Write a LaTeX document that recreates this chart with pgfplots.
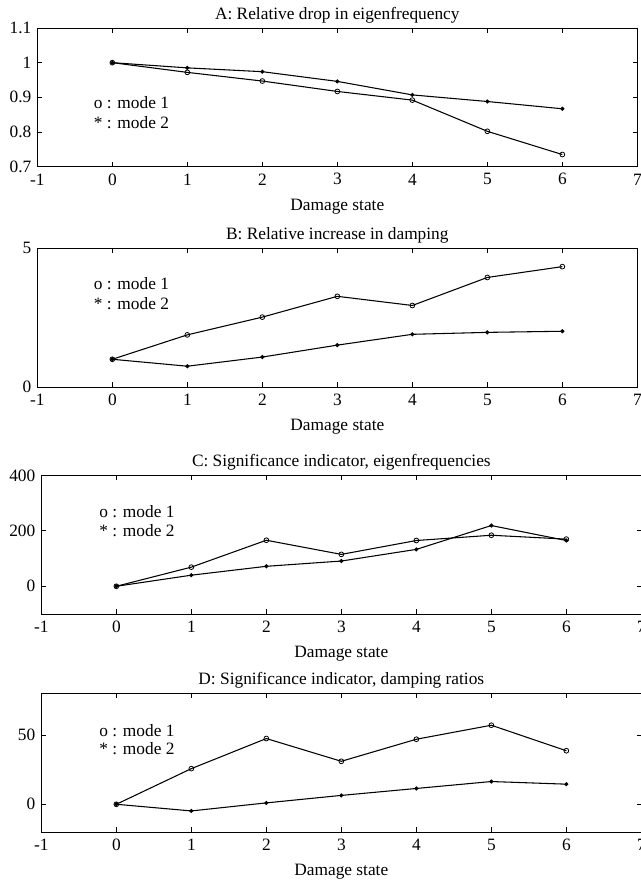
\documentclass[border=0pt]{standalone}
\usepackage{fontspec}
\setmainfont{Liberation Serif}
\usepackage{pgfplots}
\pgfplotsset{compat=1.18}

\tikzset{legtxt/.style={anchor=west, inner sep=0pt, font=\fontsize{13}{15}\selectfont}}

\pgfplotsset{
  panel/.style={
    scale only axis, width=450pt, height=104pt,
    anchor=south west,
    xmin=-1, xmax=7, xtick={-1,0,...,7},
    tick align=inside, tick pos=both,
    major tick length=3.5pt,
    axis line style={line width=0.7pt},
    every tick/.style={line width=0.6pt, black},
    tick label style={font=\fontsize{13}{15}\selectfont},
    /pgf/number format/assume math mode=true,
    xticklabel style={anchor=center, yshift=-9.5pt},
    yticklabel style={anchor=east, xshift=-1pt},
    title style={at={(axis description cs:0.5,1)}, anchor=center, yshift=3.5pt,
                 font=\fontsize{13}{15}\selectfont},
    xlabel={Damage state},
    xlabel style={at={(axis description cs:0.5,0)}, anchor=center, yshift=-30pt,
                  font=\fontsize{13}{15}\selectfont},
    every axis plot/.append style={black, line width=0.8pt},
  },
  m1/.style={mark=o, mark size=1.8pt, mark options={line width=0.6pt}},
  m2/.style={mark=*, mark size=1.1pt},
}

\begin{document}
\begin{tikzpicture}
\useasboundingbox (0,0) rectangle (480pt,-660.75pt);

% A
\begin{axis}[panel, at={(28pt,-125pt)},
  ymin=0.7, ymax=1.1, ytick={0.7,0.8,0.9,1,1.1},
  title={A: Relative drop in eigenfrequency}]
\addplot[m1] coordinates {(0,1.0) (1,0.972) (2,0.947) (3,0.917) (4,0.892) (5,0.802) (6,0.735)};
\addplot[m2] coordinates {(0,1.0) (1,0.985) (2,0.974) (3,0.946) (4,0.907) (5,0.888) (6,0.867)};
\node[legtxt] at (axis cs:-0.25,0.885) {o : mode 1};
\node[legtxt] at (axis cs:-0.25,0.828) {* : mode 2};
\end{axis}

% B
\begin{axis}[panel, at={(28pt,-290.25pt)},
  ymin=0, ymax=5, ytick={0,5},
  title={B: Relative increase in damping}]
\addplot[m1] coordinates {(0,1.0) (1,1.88) (2,2.52) (3,3.27) (4,2.94) (5,3.95) (6,4.34)};
\addplot[m2] coordinates {(0,1.0) (1,0.75) (2,1.08) (3,1.51) (4,1.90) (5,1.97) (6,2.01)};
\node[legtxt] at (axis cs:-0.25,3.73) {o : mode 1};
\node[legtxt] at (axis cs:-0.25,3.01) {* : mode 2};
\end{axis}

% C
\begin{axis}[panel, at={(31pt,-460.5pt)},
  ymin=-100, ymax=400, ytick={0,200,400},
  title={C: Significance indicator, eigenfrequencies}]
\addplot[m1] coordinates {(0,0) (1,69) (2,166) (3,115) (4,165) (5,184) (6,170)};
\addplot[m2] coordinates {(0,0) (1,40) (2,72) (3,91) (4,133) (5,219) (6,165)};
\node[legtxt] at (axis cs:-0.23,268) {o : mode 1};
\node[legtxt] at (axis cs:-0.23,200) {* : mode 2};
\end{axis}

% D
\begin{axis}[panel, at={(31pt,-624pt)},
  ymin=-20, ymax=80, ytick={0,50},
  title={D: Significance indicator, damping ratios}]
\addplot[m1] coordinates {(0,0) (1,25.7) (2,47.4) (3,31) (4,46.9) (5,57) (6,38.6)};
\addplot[m2] coordinates {(0,0) (1,-4.8) (2,1) (3,6.4) (4,11.4) (5,16.4) (6,14.5)};
\node[legtxt] at (axis cs:-0.23,53.3) {o : mode 1};
\node[legtxt] at (axis cs:-0.23,40.2) {* : mode 2};
\end{axis}
\end{tikzpicture}
\end{document}
